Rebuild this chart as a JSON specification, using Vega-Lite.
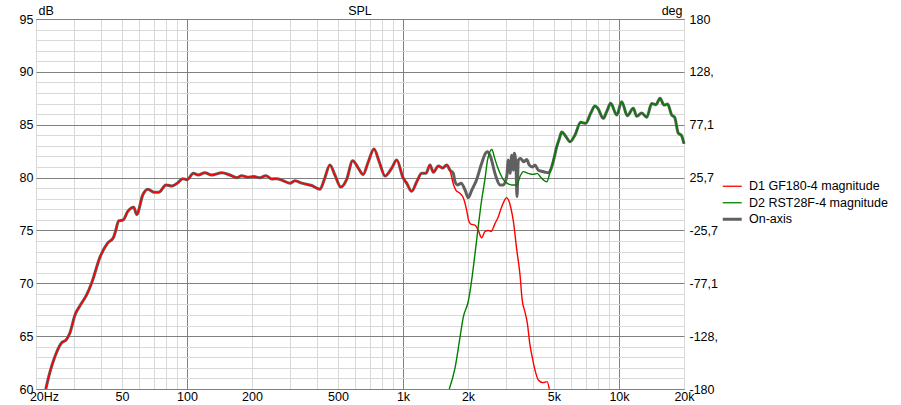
{
"$schema": "https://vega.github.io/schema/vega-lite/v6.json",
"width": 648, "height": 370,
"autosize": {"type": "none"},
"padding": {"left": 36, "top": 19, "right": 217, "bottom": 16},
"background": "white",
"title": {"text": "SPL", "fontSize": 12.5, "fontWeight": "normal", "font": "Liberation Sans", "anchor": "middle", "color": "black", "offset": -13},
"config": {"view": {"stroke": "#808080", "strokeWidth": 1},
  "axis": {"labelFont": "Liberation Sans", "labelFontSize": 12.5, "labelColor": "black", "titleFont": "Liberation Sans", "titleFontSize": 12.5, "titleFontWeight": "normal", "titleColor": "black"}},
"datasets": {
"oa": [
{"f":22.2,"db":60.0},{"f":23.2,"db":61.6},{"f":24.5,"db":63.1},{"f":26.1,"db":64.3},{"f":27.7,"db":64.7},{"f":28.7,"db":65.3},{"f":30.3,"db":67.0},{"f":32.0,"db":67.9},{"f":34.3,"db":68.9},{"f":36.3,"db":70.1},{"f":39.6,"db":72.5},{"f":42.9,"db":73.8},{"f":45.6,"db":74.3},{"f":46.5,"db":74.8},{"f":48.3,"db":75.9},{"f":50.7,"db":76.0},{"f":53.2,"db":76.8},{"f":56.7,"db":77.2},{"f":58.5,"db":76.5},{"f":62.4,"db":78.35},{"f":65.8,"db":78.9},{"f":70.6,"db":78.6},{"f":74,"db":78.6},{"f":80,"db":79.3},{"f":85.2,"db":79.2},{"f":90.6,"db":79.5},{"f":95.5,"db":79.9},{"f":100,"db":79.8},{"f":107,"db":80.4},{"f":112.8,"db":80.24},{"f":121,"db":80.46},{"f":130,"db":80.24},{"f":145,"db":80.46},{"f":158,"db":80.24},{"f":170,"db":79.99},{"f":179,"db":80.18},{"f":191,"db":80.03},{"f":203,"db":80.1},{"f":218,"db":79.99},{"f":232,"db":80.18},{"f":247,"db":79.87},{"f":260,"db":79.9},{"f":279,"db":79.7},{"f":300,"db":79.47},{"f":316,"db":79.7},{"f":340,"db":79.47},{"f":378,"db":79.25},{"f":413,"db":78.9},{"f":432,"db":79.8},{"f":459,"db":81.2},{"f":484,"db":80.24},{"f":516,"db":79.1},{"f":548,"db":79.8},{"f":585,"db":81.6},{"f":621,"db":80.9},{"f":654,"db":80.3},{"f":691,"db":81.5},{"f":734,"db":82.7},{"f":776,"db":81.5},{"f":826,"db":80.15},{"f":887,"db":80.9},{"f":936,"db":81.67},{"f":1000,"db":80.0},{"f":1040,"db":79.47},{"f":1097,"db":78.7},{"f":1158,"db":79.6},{"f":1220,"db":80.4},{"f":1278,"db":80.4},{"f":1334,"db":81.2},{"f":1382,"db":80.5},{"f":1458,"db":81.1},{"f":1528,"db":80.9},{"f":1594,"db":81.2},{"f":1650,"db":80.7},
{"f":1710,"db":80.4},{"f":1742,"db":79.6},{"f":1790,"db":79.3},{"f":1860,"db":79.47},{"f":1940,"db":78.8},{"f":2006,"db":78.1},{"f":2080,"db":78.8},{"f":2192,"db":79.8},{"f":2314,"db":81.35},{"f":2410,"db":82.3},{"f":2460,"db":82.45},{"f":2540,"db":82.0},{"f":2680,"db":80.24},{"f":2814,"db":79.3},{"f":2914,"db":79.3},{"f":3022,"db":80.1},{"f":3074,"db":81.66},{"f":3130,"db":80.4},{"f":3188,"db":82.1},{"f":3242,"db":80.7},{"f":3278,"db":82.3},{"f":3336,"db":81.0},{"f":3372,"db":78.2},{"f":3420,"db":81.66},{"f":3500,"db":81.8},{"f":3620,"db":81.5},{"f":3740,"db":81.7},{"f":3840,"db":81.2},{"f":3980,"db":81.0},{"f":4084,"db":81.2},{"f":4232,"db":80.7},{"f":4388,"db":80.6},{"f":4560,"db":80.5},{"f":4720,"db":80.45},{"f":4840,"db":80.8},{"f":5000,"db":81.8},
{"f":5148,"db":82.9},{"f":5300,"db":83.7},{"f":5430,"db":84.3},{"f":5683,"db":83.87},{"f":5934,"db":83.39},{"f":6258,"db":84.03},{"f":6646,"db":85.23},{"f":7010,"db":85.13},{"f":7396,"db":86.08},{"f":7745,"db":86.77},{"f":7980,"db":86.55},{"f":8460,"db":85.6},{"f":8770,"db":86.23},{"f":9154,"db":87.03},{"f":9760,"db":85.92},{"f":10294,"db":87.18},{"f":10928,"db":85.85},{"f":11650,"db":86.55},{"f":12080,"db":85.8},{"f":12746,"db":86.1},{"f":13438,"db":85.7},{"f":14176,"db":87.0},{"f":14840,"db":86.9},{"f":15487,"db":87.5},{"f":16160,"db":86.86},{"f":16800,"db":86.95},{"f":17540,"db":85.92},{"f":18100,"db":85.7},{"f":18820,"db":84.2},{"f":19450,"db":84.0},{"f":20000,"db":83.2}
],
"d1": [
{"f":22.2,"db":60.0},{"f":23.2,"db":61.6},{"f":24.5,"db":63.1},{"f":26.1,"db":64.3},{"f":27.7,"db":64.7},{"f":28.7,"db":65.3},{"f":30.3,"db":67.0},{"f":32.0,"db":67.9},{"f":34.3,"db":68.9},{"f":36.3,"db":70.1},{"f":39.6,"db":72.5},{"f":42.9,"db":73.8},{"f":45.6,"db":74.3},{"f":46.5,"db":74.8},{"f":48.3,"db":75.9},{"f":50.7,"db":76.0},{"f":53.2,"db":76.8},{"f":56.7,"db":77.2},{"f":58.5,"db":76.5},{"f":62.4,"db":78.35},{"f":65.8,"db":78.9},{"f":70.6,"db":78.6},{"f":74,"db":78.6},{"f":80,"db":79.3},{"f":85.2,"db":79.2},{"f":90.6,"db":79.5},{"f":95.5,"db":79.9},{"f":100,"db":79.8},{"f":107,"db":80.4},{"f":112.8,"db":80.24},{"f":121,"db":80.46},{"f":130,"db":80.24},{"f":145,"db":80.46},{"f":158,"db":80.24},{"f":170,"db":79.99},{"f":179,"db":80.18},{"f":191,"db":80.03},{"f":203,"db":80.1},{"f":218,"db":79.99},{"f":232,"db":80.18},{"f":247,"db":79.87},{"f":260,"db":79.9},{"f":279,"db":79.7},{"f":300,"db":79.47},{"f":316,"db":79.7},{"f":340,"db":79.47},{"f":378,"db":79.25},{"f":413,"db":78.9},{"f":432,"db":79.8},{"f":459,"db":81.2},{"f":484,"db":80.24},{"f":516,"db":79.1},{"f":548,"db":79.8},{"f":585,"db":81.6},{"f":621,"db":80.9},{"f":654,"db":80.3},{"f":691,"db":81.5},{"f":734,"db":82.7},{"f":776,"db":81.5},{"f":826,"db":80.15},{"f":887,"db":80.9},{"f":936,"db":81.67},{"f":1000,"db":80.0},{"f":1040,"db":79.47},{"f":1097,"db":78.7},{"f":1158,"db":79.6},{"f":1220,"db":80.4},{"f":1278,"db":80.4},{"f":1334,"db":81.2},{"f":1382,"db":80.5},{"f":1458,"db":81.1},{"f":1528,"db":80.9},{"f":1594,"db":81.2},{"f":1650,"db":80.7},
{"f":1710,"db":79.4},{"f":1760,"db":78.8},{"f":1838,"db":78.5},{"f":1902,"db":78.1},{"f":1972,"db":76.9},{"f":2010,"db":76.0},{"f":2060,"db":75.6},{"f":2155,"db":75.5},{"f":2232,"db":75.0},{"f":2314,"db":74.3},{"f":2398,"db":74.9},{"f":2480,"db":75.0},{"f":2560,"db":74.9},{"f":2660,"db":75.6},{"f":2763,"db":76.3},{"f":2860,"db":77.2},{"f":2960,"db":77.9},{"f":3020,"db":78.1},{"f":3090,"db":77.8},{"f":3160,"db":77.1},{"f":3242,"db":75.9},{"f":3362,"db":73.2},{"f":3482,"db":70.8},{"f":3560,"db":68.5},{"f":3680,"db":67.2},{"f":3760,"db":66.3},{"f":3870,"db":64.2},{"f":3950,"db":63.2},{"f":4084,"db":61.8},{"f":4232,"db":60.85},{"f":4450,"db":60.6},{"f":4650,"db":60.7},{"f":4758,"db":60.0}
],
"d2": [
{"f":1638,"db":60.0},{"f":1742,"db":62.0},{"f":1837,"db":64.9},{"f":1902,"db":66.8},{"f":2006,"db":68.3},{"f":2080,"db":70.3},{"f":2155,"db":72.8},{"f":2232,"db":75.4},{"f":2314,"db":77.9},{"f":2398,"db":79.9},{"f":2460,"db":81.6},{"f":2520,"db":82.4},{"f":2580,"db":82.65},{"f":2660,"db":81.8},{"f":2740,"db":81.0},{"f":2814,"db":80.4},{"f":2914,"db":79.8},{"f":3022,"db":79.5},{"f":3188,"db":79.3},{"f":3362,"db":79.3},{"f":3482,"db":80.1},{"f":3606,"db":80.56},{"f":3800,"db":80.4},{"f":4012,"db":80.3},{"f":4180,"db":80.4},{"f":4350,"db":80.0},{"f":4628,"db":79.6},{"f":4795,"db":80.5},{"f":4966,"db":81.6},
{"f":5148,"db":82.9},{"f":5300,"db":83.7},{"f":5430,"db":84.3},{"f":5683,"db":83.87},{"f":5934,"db":83.39},{"f":6258,"db":84.03},{"f":6646,"db":85.23},{"f":7010,"db":85.13},{"f":7396,"db":86.08},{"f":7745,"db":86.77},{"f":7980,"db":86.55},{"f":8460,"db":85.6},{"f":8770,"db":86.23},{"f":9154,"db":87.03},{"f":9760,"db":85.92},{"f":10294,"db":87.18},{"f":10928,"db":85.85},{"f":11650,"db":86.55},{"f":12080,"db":85.8},{"f":12746,"db":86.1},{"f":13438,"db":85.7},{"f":14176,"db":87.0},{"f":14840,"db":86.9},{"f":15487,"db":87.5},{"f":16160,"db":86.86},{"f":16800,"db":86.95},{"f":17540,"db":85.92},{"f":18100,"db":85.7},{"f":18820,"db":84.2},{"f":19450,"db":84.0},{"f":20000,"db":83.2}
]
},
"resolve": {"axis": {"x": "independent", "y": "independent"}},
"layer": [
{
"data": {"name": "oa"},
"transform": [{"calculate": "'On-axis'", "as": "s"}],
"mark": {"type": "line", "interpolate": "monotone", "strokeWidth": 3},
"encoding": {
"x": {"field": "f", "type": "quantitative", "scale": {"type": "log", "domain": [20, 20000], "nice": false},
  "axis": {"title": null, "values": [20,30,40,50,60,70,80,90,100,200,300,400,500,600,700,800,900,1000,2000,3000,4000,5000,6000,7000,8000,9000,10000,20000],
   "grid": true, "gridColor": {"condition": {"test": "datum.value == 100 || datum.value == 1000 || datum.value == 10000", "value": "#808080"}, "value": "#d9d9d9"},
   "ticks": false, "domain": false, "labelPadding": 1, "labelOverlap": false, "labelFlush": false, "labelBound": false,
   "labelOffset": {"condition": {"test": "datum.value == 20", "value": 8}, "value": 0},
   "labelExpr": "indexof([20,50,100,200,500,1000,2000,5000,10000,20000], datum.value) >= 0 ? (datum.value == 20 ? '20Hz' : (datum.value >= 1000 ? (datum.value/1000) + 'k' : '' + datum.value)) : ''"}},
"y": {"field": "db", "type": "quantitative", "scale": {"domain": [60, 95], "nice": false, "zero": false},
  "axis": {"title": "dB", "titleAngle": 0, "titleX": 2, "titleY": -5, "titleAlign": "left", "titleBaseline": "alphabetic",
   "values": [60,61,62,63,64,65,66,67,68,69,70,71,72,73,74,75,76,77,78,79,80,81,82,83,84,85,86,87,88,89,90,91,92,93,94,95],
   "grid": true, "gridColor": {"condition": {"test": "datum.value % 5 == 0", "value": "#808080"}, "value": "#d9d9d9"},
   "ticks": false, "domain": false, "labelPadding": 3, "labelOverlap": false, "labelBound": false, "labelFlush": false,
   "labelExpr": "datum.value % 5 == 0 ? '' + datum.value : ''"}},
"color": {"field": "s", "type": "nominal", "scale": {"domain": ["D1 GF180-4 magnitude", "D2 RST28F-4 magnitude", "On-axis"], "range": ["#ff0000", "#008000", "#606060"]},
  "legend": {"title": null, "orient": "none", "legendX": 690, "legendY": 161, "symbolType": "M-2,0H2", "symbolSize": 90, "labelFontSize": 12.5, "labelFont": "Liberation Sans", "labelColor": "black", "labelOffset": 10.5, "rowPadding": 3.5, "padding": 0,
   "encode": {"symbols": {"update": {"strokeWidth": {"signal": "datum.value == 'On-axis' ? 3 : 1.3"}}}}}}
}
},
{
"data": {"name": "d1"},
"transform": [{"calculate": "'D1 GF180-4 magnitude'", "as": "s"}],
"mark": {"type": "line", "interpolate": "monotone", "strokeWidth": 1.4},
"encoding": {
"x": {"field": "f", "type": "quantitative", "axis": null},
"y": {"field": "db", "type": "quantitative",
  "axis": {"orient": "right", "title": "deg", "titleAngle": 0, "titleX": -2, "titleY": -5, "titleAlign": "right", "titleBaseline": "alphabetic",
   "values": [60,65,70,75,80,85,90,95], "grid": false, "ticks": false, "domain": false, "labelPadding": 5, "labelOverlap": false, "labelBound": false, "labelFlush": false,
   "labelExpr": "datum.value == 95 ? '180' : datum.value == 90 ? '128,' : datum.value == 85 ? '77,1' : datum.value == 80 ? '25,7' : datum.value == 75 ? '-25,7' : datum.value == 70 ? '-77,1' : datum.value == 65 ? '-128,' : '-180'"}},
"color": {"field": "s", "type": "nominal"}
}
},
{
"data": {"name": "d2"},
"transform": [{"calculate": "'D2 RST28F-4 magnitude'", "as": "s"}],
"mark": {"type": "line", "interpolate": "monotone", "strokeWidth": 1.4},
"encoding": {
"x": {"field": "f", "type": "quantitative", "axis": null},
"y": {"field": "db", "type": "quantitative", "axis": null},
"color": {"field": "s", "type": "nominal"}
}
}
]
}
